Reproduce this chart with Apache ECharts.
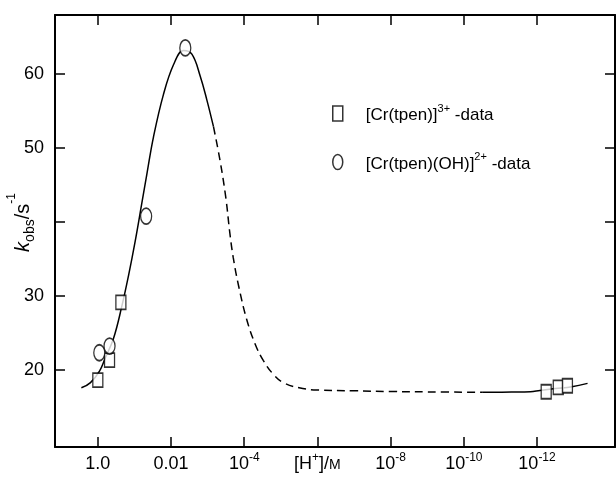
<!DOCTYPE html>
<html><head><meta charset="utf-8">
<script src="https://cdn.jsdelivr.net/npm/echarts@6/dist/echarts.min.js"></script>
<style>html,body{margin:0;padding:0;background:#fff}#c{width:616px;height:482px}</style>
</head><body><div id="c"></div>
<script>
// x is plotted as -log10([H+]/M)
const xTickValues = [0, 2, 4, 6, 8, 10, 12];
const xTickLabels = ['{b|1.0}', '{b|0.01}', '{b|10}{sup|-4}', '{b|[H}{sup|+}{b|]/}{sc|M}', '{b|10}{sup|-8}', '{b|10}{sup|-10}', '{b|10}{sup|-12}'];
const yTickValues = [20, 30, 40, 50, 60];
const yLabelValues = [20, 30, 50, 60];

const seriesNames = ['[Cr(tpen)]3+ -data', '[Cr(tpen)(OH)]2+ -data'];
const legendLabels = ['{b|[Cr(tpen)]}{sup|3+}{b| -data}', '{b|[Cr(tpen)(OH)]}{sup|2+}{b| -data}'];

const crData = [[0, 18.65], [0.32, 21.35], [0.63, 29.15], [12.25, 17.07], [12.58, 17.66], [12.83, 17.88]];
const crOHData = [[0.04, 22.34], [0.32, 23.24], [1.32, 40.8], [2.39, 63.55]];

const fitSolidLow = [[-0.45, 17.6], [-0.2, 18.3], [0.05, 19.9], [0.2, 21.6], [0.43, 24.3], [0.65, 28.5], [0.84, 32.8], [1.02, 37.4], [1.2, 42.5], [1.34, 46.5], [1.52, 51.5], [1.79, 57.2], [2.07, 61.3], [2.34, 63.2], [2.57, 62.7], [2.8, 59.7], [2.98, 56.5], [3.16, 52.9]];
const fitDashed = [[3.16, 52.9], [3.34, 48.3], [3.5, 43.2], [3.6, 38.8], [3.7, 35.2], [3.85, 31.3], [4.07, 26.8], [4.3, 23.5], [4.52, 21.3], [4.8, 19.4], [5.07, 18.3], [5.5, 17.6], [6.0, 17.3], [7.0, 17.2], [8.0, 17.1], [9.0, 17.05], [10.5, 17.0]];
const fitSolidHigh = [[10.5, 17.0], [11.3, 17.03], [11.82, 17.07], [12.08, 17.25], [12.5, 17.5], [12.95, 17.75], [13.38, 18.2]];

const FONT = '"Liberation Sans", Arial, sans-serif';
const ELLIPSE = 'path://M0,-1 C0.552,-1 1,-0.552 1,0 C1,0.552 0.552,1 0,1 C-0.552,1 -1,0.552 -1,0 C-1,-0.552 -0.552,-1 0,-1 Z';

const richTick = {
  b: { fontSize: 18, lineHeight: 18, fontFamily: FONT, color: '#000', verticalAlign: 'top', padding: [3, 0, 0, 0] },
  sup: { fontSize: 12, lineHeight: 12, fontFamily: FONT, color: '#000', verticalAlign: 'top' },
  sc: { fontSize: 14, lineHeight: 14, fontFamily: FONT, color: '#000', verticalAlign: 'top', padding: [6, 0, 0, 0] }
};

const chart = echarts.init(document.getElementById('c'), null, { renderer: 'canvas' });
const axisLine = { show: true, onZero: false, lineStyle: { color: '#000', width: 2 } };
const tickStyle = { color: '#000', width: 1.5 };

chart.setOption({
  backgroundColor: '#fff',
  animation: false,
  grid: { left: 55, right: 1, top: 15, bottom: 35, containLabel: false },
  legend: {
    orient: 'vertical', left: 327, top: 98, itemWidth: 10, itemHeight: 15, itemGap: 27.5,
    selectedMode: false, symbolKeepAspect: false,
    data: [{ name: seriesNames[0], icon: 'rect' }, { name: seriesNames[1], icon: ELLIPSE }],
    itemStyle: { color: '#fff', borderColor: '#000', borderWidth: 1.5 },
    formatter: n => legendLabels[seriesNames.indexOf(n)],
    textStyle: { fontSize: 17, fontFamily: FONT, color: '#000', padding: [0, 0, 4, 18], rich: {
      b: { fontSize: 17, lineHeight: 17, fontFamily: FONT, color: '#000', verticalAlign: 'top', padding: [4, 0, 0, 0] },
      sup: { fontSize: 11, lineHeight: 11, fontFamily: FONT, color: '#000', verticalAlign: 'top' }
    } }
  },
  xAxis: [{
    type: 'value', position: 'bottom', min: -1.17, max: 14.13,
    axisLine: axisLine,
    axisTick: { show: true, inside: true, length: 10, customValues: xTickValues, lineStyle: tickStyle },
    axisLabel: { customValues: xTickValues, formatter: v => xTickLabels[xTickValues.indexOf(v)], color: '#000', fontSize: 18, fontFamily: FONT, margin: 5, rich: richTick },
    splitLine: { show: false }
  }, {
    type: 'value', position: 'top', min: -1.17, max: 14.13,
    axisLine: axisLine,
    axisTick: { show: true, inside: true, length: 10, customValues: xTickValues, lineStyle: tickStyle },
    axisLabel: { show: false }, splitLine: { show: false }
  }],
  yAxis: [{
    type: 'value', position: 'left', min: 9.6, max: 68,
    axisLine: axisLine,
    axisTick: { show: true, inside: true, length: 10, customValues: yTickValues, lineStyle: tickStyle },
    axisLabel: { customValues: yLabelValues, color: '#000', fontSize: 18, fontFamily: FONT, margin: 11 },
    splitLine: { show: false }
  }, {
    type: 'value', position: 'right', min: 9.6, max: 68,
    axisLine: axisLine,
    axisTick: { show: true, inside: true, length: 10, customValues: yTickValues, lineStyle: tickStyle },
    axisLabel: { show: false }, splitLine: { show: false }
  }],
  graphic: [{
    type: 'text', x: 21.5, y: 222.5, rotation: Math.PI / 2,
    style: {
      text: '{k|k}{sub|obs}{n|/s}{sup|-1}', align: 'center', verticalAlign: 'middle',
      rich: {
        k: { fontSize: 20, lineHeight: 31, fontFamily: FONT, fontStyle: 'italic', fill: '#000', verticalAlign: 'top', padding: [7, 0, 4, 0] },
        sub: { fontSize: 14, lineHeight: 14, fontFamily: FONT, fill: '#000', verticalAlign: 'bottom' },
        n: { fontSize: 20, lineHeight: 31, fontFamily: FONT, fill: '#000', verticalAlign: 'top', padding: [7, 0, 4, 0] },
        sup: { fontSize: 12, lineHeight: 12, fontFamily: FONT, fill: '#000', verticalAlign: 'top' }
      }
    }
  }],
  series: [
    { type: 'line', data: fitSolidLow, smooth: 0.4, showSymbol: false, silent: true, lineStyle: { color: '#000', width: 1.5 }, z: 2 },
    { type: 'line', data: fitDashed, smooth: 0.4, showSymbol: false, silent: true, lineStyle: { color: '#000', width: 1.5, type: [8, 5] }, z: 2 },
    { type: 'line', data: fitSolidHigh, smooth: 0.4, showSymbol: false, silent: true, lineStyle: { color: '#000', width: 1.5 }, z: 2 },
    { name: seriesNames[0], type: 'scatter', data: crData, symbol: 'rect', symbolSize: [10, 14], itemStyle: { color: '#fff', borderColor: '#000', borderWidth: 1.5 }, z: 3 },
    { name: seriesNames[1], type: 'scatter', data: crOHData, symbol: ELLIPSE, symbolSize: [11, 16], itemStyle: { color: '#fff', borderColor: '#000', borderWidth: 1.5 }, z: 4 }
  ]
});
</script></body></html>
